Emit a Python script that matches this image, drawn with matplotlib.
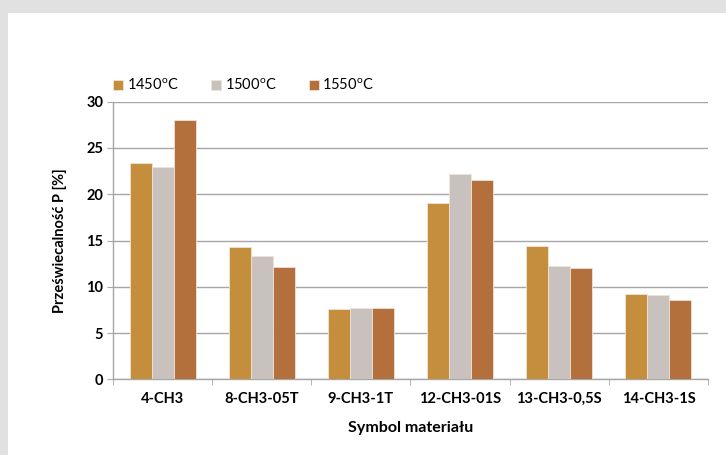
import numpy as np
import matplotlib.pyplot as plt
from matplotlib.patches import Rectangle

categories = ['4-CH3', '8-CH3-05T', '9-CH3-1T', '12-CH3-01S', '13-CH3-0,5S', '14-CH3-1S']
series_names = ['1450$^\\mathregular{o}$C', '1500$^\\mathregular{o}$C', '1550$^\\mathregular{o}$C']
t1450 = [23.4, 14.3, 7.6, 19.0, 14.4, 9.2]
t1500 = [22.9, 13.3, 7.7, 22.2, 12.2, 9.1]
t1550 = [28.0, 12.1, 7.7, 21.5, 12.0, 8.6]
colors = ['#C58E3C', '#C9C1BE', '#B3703C']

plt.rcParams['font.family'] = ['Lato', 'DejaVu Sans']
plt.rcParams['mathtext.fontset'] = 'custom'
plt.rcParams['mathtext.rm'] = 'Lato'

fig = plt.figure(figsize=(7.26, 4.55), dpi=100)
fig.patch.set_facecolor('#E1E1E1')
# white panel inside the grey frame
panel = Rectangle((8 / 726, 0), 1, 1 - 13 / 455, transform=fig.transFigure,
                  facecolor='white', edgecolor='none', zorder=-10)
fig.add_artist(panel)

ax = fig.add_axes([113 / 726, 1 - 379.3 / 455, 595 / 726, 277.6 / 455])
ax.set_facecolor('none')

x = np.arange(len(categories))
w = 0.222
for i, (vals, name) in enumerate(zip([t1450, t1500, t1550], series_names)):
    ax.bar(x + (i - 1) * w, vals, w, color=colors[i], edgecolor='#EFE3D6',
           linewidth=0.6, label=name, zorder=3)

ax.set_xlim(-0.5, len(categories) - 0.5)
ax.set_ylim(0, 30)
ax.set_yticks(range(0, 31, 5))
ax.yaxis.grid(True, color='#A6A6A6', linewidth=1.0)
ax.set_axisbelow(True)

ax.set_xticks(x)
ax.set_xticklabels(categories, fontsize=10.5, fontweight='bold')
ax.set_xticks(np.arange(-0.5, len(categories), 1.0), minor=True)
ax.tick_params(axis='x', which='major', length=0, pad=9)
ax.tick_params(axis='x', which='minor', length=4, color='#A6A6A6')
ax.tick_params(axis='y', length=4, color='#A6A6A6', pad=3)
for lbl in ax.get_yticklabels():
    lbl.set_fontweight('bold')
    lbl.set_fontsize(10.5)

for s in ['top', 'right']:
    ax.spines[s].set_visible(False)
for s in ['left', 'bottom']:
    ax.spines[s].set_color('#A6A6A6')
    ax.spines[s].set_linewidth(1.0)

ax.set_ylabel('Przeświecalność P [%]', fontsize=10.5, fontweight='bold', labelpad=14)
ax.set_xlabel('Symbol materiału', fontsize=11.5, fontweight='bold', labelpad=11)

ax.legend(loc='lower left', bbox_to_anchor=(-0.01, 1.01), ncol=3, frameon=False,
          fontsize=10.5, handlelength=0.7, handleheight=0.7, handletextpad=0.25,
          columnspacing=2.2, borderaxespad=0)

fig.savefig('out.png', dpi=100, facecolor=fig.get_facecolor())
